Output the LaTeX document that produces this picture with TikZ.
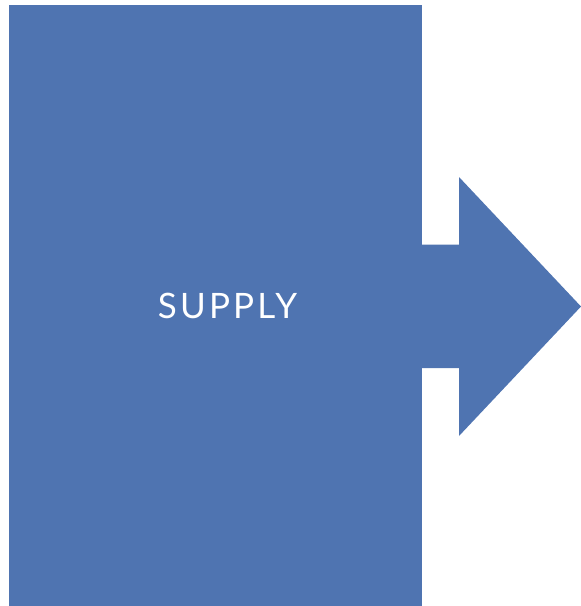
\documentclass[tikz,border=0pt]{standalone}
\usepackage{fontspec}
\setmainfont{Lato}[LetterSpace=9]
\usepackage{tikz}
\usepackage{xcolor}
\definecolor{supplyblue}{RGB}{79,116,177}

\begin{document}
\begin{tikzpicture}[
  x=1pt, y=-1pt,
  block/.style={fill=supplyblue},
  lbl/.style={text=white, font=\fontsize{35}{35}\selectfont}
]
\useasboundingbox (0,0) rectangle (581,606);

%========== supply block ==========
\fill[block] (9,5) rectangle (421.5,606);
\node[lbl] (supply) at (227.5,306) {SUPPLY};

%========== outgoing arrow ==========
\fill[block] (421,244.5) -- (459,244.5) -- (459,177) -- (581,306.5)
  -- (459,436) -- (459,368) -- (421,368) -- cycle;
\end{tikzpicture}
\end{document}
